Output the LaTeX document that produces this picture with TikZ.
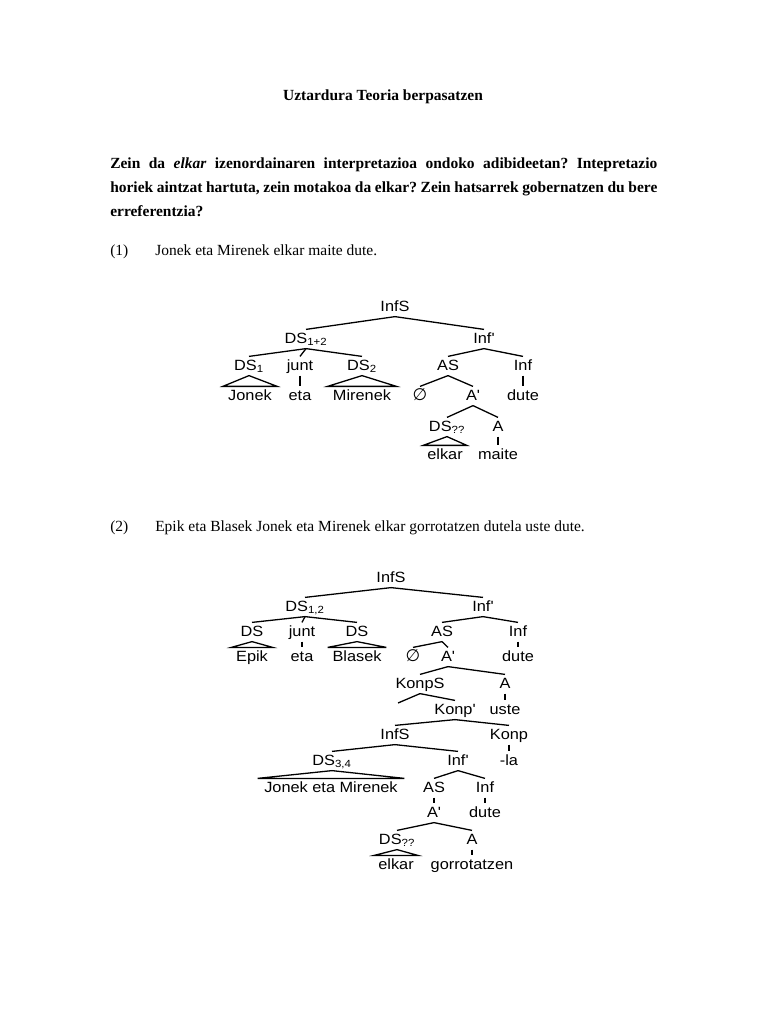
\documentclass[tikz,border=0pt]{standalone}
\usepackage{fontspec}
\setmainfont{Liberation Serif}
\newfontfamily\treefont[FakeStretch=1.1]{Liberation Sans}
\newfontfamily\djvfont{DejaVu Sans}
\newcommand{\nullcat}{{\djvfont\fontsize{13}{14}\selectfont ∅}}

\begin{document}
\begin{tikzpicture}[
      x=0.775pt, y=-0.775pt,
      lbl/.style={font=\treefont\fontsize{11.5}{13}\selectfont, inner sep=2pt,
                  text height=8.5pt, text depth=2pt},
      br/.style={line width=1pt},
      txt/.style={font=\fontsize{12}{18.6}\selectfont, inner sep=0pt, anchor=base west}
    ]
    \useasboundingbox (0,0) rectangle (768,1024);

    % heading and question
    \node[txt, anchor=base, font=\bfseries\fontsize{12}{14}\selectfont] (title) at (383,100)
        {Uztardura Teoria berpasatzen};
    \node[txt, anchor=north west, text width=424pt, align=justify,
          font=\bfseries\fontsize{12}{18.6}\selectfont] (quest) at (110,157.5)
        {\frenchspacing Zein da \textit{elkar} izenordainaren interpretazioa ondoko adibideetan? Intepretazio\linebreak
         horiek aintzat hartuta, zein motakoa da elkar? Zein hatsarrek gobernatzen du bere\linebreak
         erreferentzia?};

    % example (1)
    \node[txt] (num1) at (110,255) {(1)};
    \node[txt] (ex1) at (155,255) {Jonek eta Mirenek elkar maite dute.};

    \node[lbl] (t1infs) at (395,307) {InfS};
    \node[lbl] (t1ds) at (306,339) {DS\textsubscript{1+2}};
    \node[lbl] (t1infb) at (484,339) {Inf'};
    \node[lbl] (t1ds1) at (249,366) {DS\textsubscript{1}};
    \node[lbl] (t1junt) at (300,366) {junt};
    \node[lbl] (t1ds2) at (362,366) {DS\textsubscript{2}};
    \node[lbl] (t1as) at (448,366) {AS};
    \node[lbl] (t1inf) at (523,366) {Inf};
    \node[lbl] (t1jonek) at (250,396) {Jonek};
    \node[lbl] (t1eta) at (300,396) {eta};
    \node[lbl] (t1mirenek) at (362,396) {Mirenek};
    \node[lbl] (t1null) at (420,396) {\nullcat};
    \node[lbl] (t1ab) at (473,396) {A'};
    \node[lbl] (t1dute) at (523,396) {dute};
    \node[lbl] (t1dsq) at (447,427) {DS\textsubscript{??}};
    \node[lbl] (t1a) at (498,427) {A};
    \node[lbl] (t1elkar) at (445,455) {elkar};
    \node[lbl] (t1maite) at (498,455) {maite};

    \draw[br] (t1infs.south) -- (t1ds.north);
    \draw[br] (t1infs.south) -- (t1infb.north);
    \draw[br] (t1ds.south) -- (t1ds1.north);
    \draw[br] (t1ds.south) -- (t1junt.north);
    \draw[br] (t1ds.south) -- (t1ds2.north);
    \draw[br] (t1infb.south) -- (t1as.north);
    \draw[br] (t1infb.south) -- (t1inf.north);
    \draw[br] (t1ds1.south) -- ([xshift=-2pt]t1jonek.north west) -- ([xshift=2pt]t1jonek.north east) -- cycle;
    \draw[br] (t1junt.south) -- (t1eta.north);
    \draw[br] (t1ds2.south) -- ([xshift=-2pt]t1mirenek.north west) -- ([xshift=2pt]t1mirenek.north east) -- cycle;
    \draw[br] (t1as.south) -- (t1null.north);
    \draw[br] (t1as.south) -- (t1ab.north);
    \draw[br] (t1inf.south) -- (t1dute.north);
    \draw[br] (t1ab.south) -- (t1dsq.north);
    \draw[br] (t1ab.south) -- (t1a.north);
    \draw[br] (t1dsq.south) -- ([xshift=-1pt]t1elkar.north west) -- ([xshift=1pt]t1elkar.north east) -- cycle;
    \draw[br] (t1a.south) -- (t1maite.north);

    % example (2)
    \node[txt] (num2) at (110,531) {(2)};
    \node[txt] (ex2) at (155,531) {Epik eta Blasek Jonek eta Mirenek elkar gorrotatzen dutela uste dute.};

    \node[lbl] (t2infs) at (391,578) {InfS};
    \node[lbl] (t2ds) at (305,607) {DS\textsubscript{1,2}};
    \node[lbl] (t2infb) at (483,607) {Inf'};
    \node[lbl] (t2dsa) at (252,632) {DS};
    \node[lbl] (t2junt) at (302,632) {junt};
    \node[lbl] (t2dsb) at (357,632) {DS};
    \node[lbl] (t2as) at (442,632) {AS};
    \node[lbl] (t2inf) at (518,632) {Inf};
    \node[lbl] (t2epik) at (252,657) {Epik};
    \node[lbl] (t2eta) at (302,657) {eta};
    \node[lbl] (t2blasek) at (357,657) {Blasek};
    \node[lbl] (t2null) at (413,657) {\nullcat};
    \node[lbl] (t2ab) at (448,657) {A'};
    \node[lbl] (t2dute) at (518,657) {dute};
    \node[lbl] (t2konps) at (420,684) {KonpS};
    \node[lbl] (t2a) at (505,684) {A};
    \coordinate (t2spec) at (398,703);
    \node[lbl] (t2konpb) at (455,710) {Konp'};
    \node[lbl] (t2uste) at (505,710) {uste};
    \node[lbl] (t2infs2) at (395,735) {InfS};
    \node[lbl] (t2konp) at (509,735) {Konp};
    \node[lbl] (t2ds34) at (332,761) {DS\textsubscript{3,4}};
    \node[lbl] (t2infb2) at (458,761) {Inf'};
    \node[lbl] (t2la) at (509,761) {-la};
    \node[lbl] (t2jem) at (331,788) {Jonek eta Mirenek};
    \node[lbl] (t2as2) at (434,788) {AS};
    \node[lbl] (t2inf2) at (485,788) {Inf};
    \node[lbl] (t2ab2) at (434,813) {A'};
    \node[lbl] (t2dute2) at (485,813) {dute};
    \node[lbl] (t2dsq) at (397,840) {DS\textsubscript{??}};
    \node[lbl] (t2a2) at (472,840) {A};
    \node[lbl] (t2elkar) at (396,865) {elkar};
    \node[lbl] (t2gorr) at (472,865) {gorrotatzen};

    \draw[br] (t2infs.south) -- (t2ds.north);
    \draw[br] (t2infs.south) -- (t2infb.north);
    \draw[br] (t2ds.south) -- (t2dsa.north);
    \draw[br] (t2ds.south) -- (t2junt.north);
    \draw[br] (t2ds.south) -- (t2dsb.north);
    \draw[br] (t2infb.south) -- (t2as.north);
    \draw[br] (t2infb.south) -- (t2inf.north);
    \draw[br] (t2dsa.south) -- ([xshift=-1.5pt]t2epik.north west) -- ([xshift=1.5pt]t2epik.north east) -- cycle;
    \draw[br] (t2junt.south) -- (t2eta.north);
    \draw[br] (t2dsb.south) -- ([xshift=-1.5pt]t2blasek.north west) -- ([xshift=1.5pt]t2blasek.north east) -- cycle;
    \draw[br] (t2as.south) -- (t2null.north);
    \draw[br] (t2as.south) -- (t2ab.north);
    \draw[br] (t2inf.south) -- (t2dute.north);
    \draw[br] (t2ab.south) -- (t2konps.north);
    \draw[br] (t2ab.south) -- (t2a.north);
    \draw[br] (t2konps.south) -- (t2spec);
    \draw[br] (t2konps.south) -- (t2konpb.north);
    \draw[br] (t2a.south) -- (t2uste.north);
    \draw[br] (t2konpb.south) -- (t2infs2.north);
    \draw[br] (t2konpb.south) -- (t2konp.north);
    \draw[br] (t2konp.south) -- (t2la.north);
    \draw[br] (t2infs2.south) -- (t2ds34.north);
    \draw[br] (t2infs2.south) -- (t2infb2.north);
    \draw[br] (t2ds34.south) -- ([xshift=-3pt]t2jem.north west) -- ([xshift=3pt]t2jem.north east) -- cycle;
    \draw[br] (t2infb2.south) -- (t2as2.north);
    \draw[br] (t2infb2.south) -- (t2inf2.north);
    \draw[br] (t2as2.south) -- (t2ab2.north);
    \draw[br] (t2inf2.south) -- (t2dute2.north);
    \draw[br] (t2ab2.south) -- (t2dsq.north);
    \draw[br] (t2ab2.south) -- (t2a2.north);
    \draw[br] (t2dsq.south) -- ([xshift=-1pt]t2elkar.north west) -- ([xshift=1pt]t2elkar.north east) -- cycle;
    \draw[br] (t2a2.south) -- (t2gorr.north);
  \end{tikzpicture}
\end{document}
